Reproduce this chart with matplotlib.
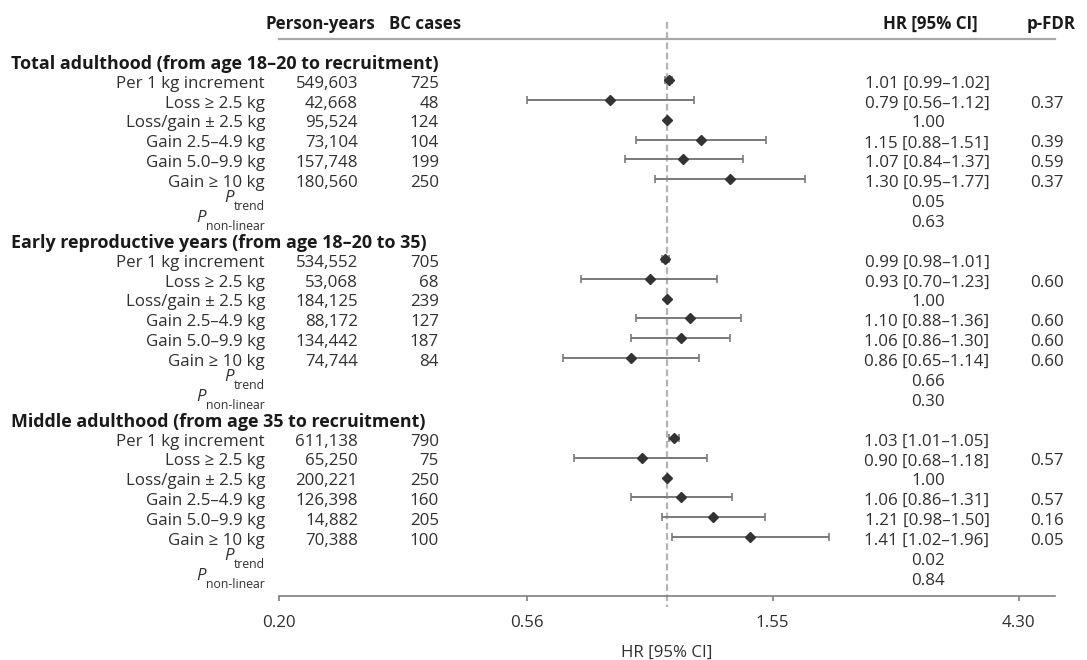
import matplotlib
matplotlib.use("Agg")
import matplotlib.pyplot as plt
import matplotlib.transforms as mtransforms

plt.rcParams["font.family"] = ["Open Sans", "DejaVu Sans"]

# ---------------- data ---------------- #
sections = [
    "Total adulthood (from age 18\u201320 to recruitment)",
    "Early reproductive years (from age 18\u201320 to 35)",
    "Middle adulthood (from age 35 to recruitment)",
]
categories = [
    "Per 1 kg increment",
    "Loss \u2265 2.5 kg",
    "Loss/gain \u00b1 2.5 kg",
    "Gain 2.5\u20134.9 kg",
    "Gain 5.0\u20139.9 kg",
    "Gain \u2265 10 kg",
]

person_years = [
    [549603, 42668, 95524, 73104, 157748, 180560],
    [534552, 53068, 184125, 88172, 134442, 74744],
    [611138, 65250, 200221, 126398, 14882, 70388],
]
bc_cases = [
    [725, 48, 124, 104, 199, 250],
    [705, 68, 239, 127, 187, 84],
    [790, 75, 250, 160, 205, 100],
]
hr = [
    [1.01, 0.79, 1.00, 1.15, 1.07, 1.30],
    [0.99, 0.93, 1.00, 1.10, 1.06, 0.86],
    [1.03, 0.90, 1.00, 1.06, 1.21, 1.41],
]
# None = reference group (no CI)
hr_lo = [
    [0.99, 0.56, None, 0.88, 0.84, 0.95],
    [0.98, 0.70, None, 0.88, 0.86, 0.65],
    [1.01, 0.68, None, 0.86, 0.98, 1.02],
]
hr_hi = [
    [1.02, 1.12, None, 1.51, 1.37, 1.77],
    [1.01, 1.23, None, 1.36, 1.30, 1.14],
    [1.05, 1.18, None, 1.31, 1.50, 1.96],
]
p_fdr = [
    [None, 0.37, None, 0.39, 0.59, 0.37],
    [None, 0.60, None, 0.60, 0.60, 0.60],
    [None, 0.57, None, 0.57, 0.16, 0.05],
]
p_trend = [0.05, 0.66, 0.02]
p_nonlinear = [0.63, 0.30, 0.84]

x_ticks = [0.20, 0.56, 1.55, 4.30]

# ---------------- layout ---------------- #
W, H = 1087, 660
TXT = "#303030"
BOLD = "#1a1a1a"
FS = 12.2
DY = 0.09  # text sits a touch below the marker centre

fig = plt.figure(figsize=(W / 100, H / 100), dpi=100)
ax = fig.add_axes([279 / W, 1 - 596 / H, (1055 - 279) / W, (596 - 39) / H])
ax.set_xscale("log")
ax.set_xlim(0.2, 5.0)
ax.set_ylim(26.96, -1.06)

# x in figure pixels, y in row units
tr = mtransforms.blended_transform_factory(fig.transFigure, ax.transData)


def put(px, row, s, **kw):
    kw.setdefault("fontsize", FS)
    kw.setdefault("color", TXT)
    kw.setdefault("va", "center_baseline")
    return ax.text(px / W, row + DY, s, transform=tr, clip_on=False, **kw)


# column headers
put(320, -2.0, "Person-years", ha="center", fontweight="bold", color=BOLD)
put(425, -2.0, "BC cases", ha="center", fontweight="bold", color=BOLD)
put(930, -2.0, "HR [95% CI]", ha="center", fontweight="bold", color=BOLD)
put(1051, -2.0, "p-FDR", ha="center", fontweight="bold", color=BOLD)

row = 0
for s, title in enumerate(sections):
    put(11, row, title, ha="left", fontweight="bold", color=BOLD, fontsize=12.9)
    row += 1
    for i, cat in enumerate(categories):
        put(265, row, cat, ha="right")
        put(358, row, f"{person_years[s][i]:,}", ha="right")
        put(439, row, str(bc_cases[s][i]), ha="right")
        if hr_lo[s][i] is None:
            put(928, row, f"{hr[s][i]:.2f}", ha="center")
        else:
            put(927, row, f"{hr[s][i]:.2f} [{hr_lo[s][i]:.2f}\u2013{hr_hi[s][i]:.2f}]",
                ha="center")
            ax.errorbar(hr[s][i], row,
                        xerr=[[hr[s][i] - hr_lo[s][i]], [hr_hi[s][i] - hr[s][i]]],
                        fmt="none", ecolor="#7a7a7a", elinewidth=1.4,
                        capsize=3, capthick=1.2, zorder=3)
        ax.plot(hr[s][i], row, marker="D", ms=5.6, color="#333333",
                ls="none", zorder=4)
        if p_fdr[s][i] is not None:
            put(1047, row, f"{p_fdr[s][i]:.2f}", ha="center")
        row += 1
    # P trend / P non-linear
    for val, sub in ((p_trend[s], "trend"), (p_nonlinear[s], "non-linear")):
        t = put(265, row + 0.22, sub, ha="right", fontsize=8.8)
        ax.annotate("P", xy=(0, 0.55), xycoords=t, ha="right", va="bottom",
                    fontsize=FS, style="italic", color=TXT,
                    annotation_clip=False)
        put(928, row, f"{val:.2f}", ha="center")
        row += 1

# reference line at HR = 1
ax.plot([1, 1], [-1.9, 27.5], color="#b4b4b4", lw=1.6,
        ls=(0, (3, 1.6)), clip_on=False, zorder=1)

# axes styling
for side in ("left", "right"):
    ax.spines[side].set_visible(False)
ax.spines["top"].set_color("#a8a8a8")
ax.spines["top"].set_linewidth(1.6)
ax.spines["bottom"].set_color("#7f7f7f")
ax.spines["bottom"].set_linewidth(1.2)
ax.set_yticks([])
ax.set_xticks(x_ticks)
ax.set_xticklabels([f"{v:.2f}" for v in x_ticks])
ax.xaxis.set_minor_locator(matplotlib.ticker.NullLocator())
ax.tick_params(axis="x", direction="out", length=3.5, width=1.2, color="#7f7f7f",
               labelsize=FS, labelcolor=TXT, pad=10.5)
ax.set_xlabel("HR [95% CI]", fontsize=FS, color=TXT, labelpad=10)

fig.savefig("out.png", dpi=100)
